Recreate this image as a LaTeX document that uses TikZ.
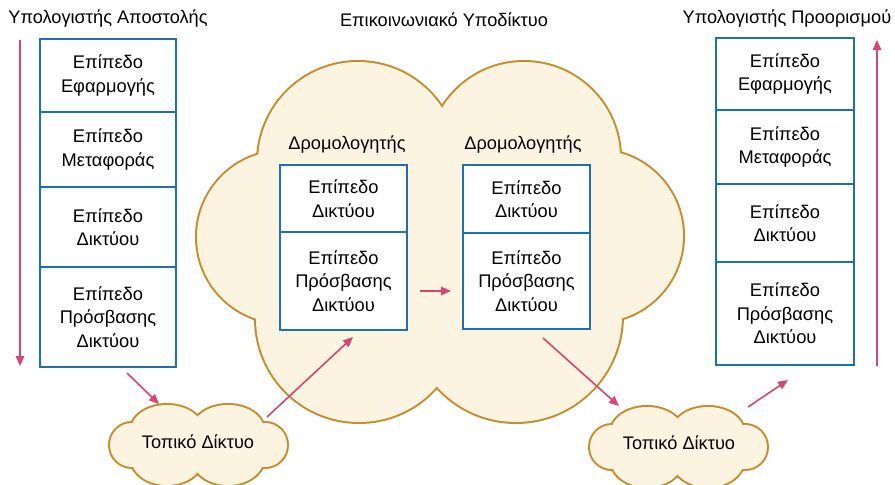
\documentclass[tikz,border=0pt]{standalone}
\usepackage{fontspec}
\setmainfont{Liberation Sans}
\usetikzlibrary{arrows.meta}
\definecolor{cloudfill}{RGB}{252,244,224}
\definecolor{cloudline}{RGB}{200,140,45}
\definecolor{boxblue}{RGB}{28,112,180}
\definecolor{arrowpink}{RGB}{214,70,110}
\begin{document}
\begin{tikzpicture}[x=1pt,y=-1pt,
  layer/.style={draw=boxblue, line width=2.2pt, fill=white, align=center, inner sep=0pt,
    font=\fontsize{18.3}{23.5}\selectfont},
  lbl/.style={font=\fontsize{18.2}{20}\selectfont, inner sep=0pt},
  flow/.style={draw=arrowpink, line width=1.6pt, -{Triangle[length=10pt,width=8.5pt]}},
  cloudedge/.style={draw=cloudline, line width=4pt},
  cloudbody/.style={fill=cloudfill}
  ]
\useasboundingbox[fill=white] (0,0) rectangle (895,485);

% ---------- big cloud (communication subnet) ----------
\foreach \cx/\cy/\r in {358/162/100, 524/158/96, 283/237/86, 597/236/86, 359/319/103, 516/316/106}
  {\path[cloudedge] (\cx,\cy) circle[radius=\r];}
\foreach \cx/\cy/\r in {358/162/100, 524/158/96, 283/237/86, 597/236/86, 359/319/103, 516/316/106}
  {\path[cloudbody] (\cx,\cy) circle[radius=\r];}
\path[cloudbody] (442,108) -- (258,155) -- (256,320) -- (437,387) -- (622,319) -- (620,153) -- cycle;

% ---------- small clouds ----------
\foreach \sx/\sy in {198/443, 678/445}{
  \begin{scope}[shift={(\sx,\sy)}]
  \foreach \ex/\ey/\rx/\ry in {-31/-13/36/25, 30/-13/36/25, -66/2/22/22, 67/2/22/22, -31/15/36/27, 30/15/36/27}
    {\path[cloudedge] (\ex,\ey) ellipse[x radius=\rx,y radius=\ry];}
  \foreach \ex/\ey/\rx/\ry in {-31/-13/36/25, 30/-13/36/25, -66/2/22/22, 67/2/22/22, -31/15/36/27, 30/15/36/27}
    {\path[cloudbody] (\ex,\ey) ellipse[x radius=\rx,y radius=\ry];}
  \path[cloudbody] (-64,-20) rectangle (64,25);
  \end{scope}
}
\node[lbl] (lan1) at (198,442) {Τοπικό Δίκτυο};
\node[lbl] (lan2) at (679,443) {Τοπικό Δίκτυο};

% ---------- titles ----------
\node[lbl] (tsrc) at (108,19) {Υπολογιστής Αποστολής};
\node[lbl] (tnet) at (444,20) {Επικοινωνιακό Υποδίκτυο};
\node[lbl] (tdst) at (787,19) {Υπολογιστής Προορισμού};
\node[lbl] (r1lbl) at (347,145) {Δρομολογητής};
\node[lbl] (r2lbl) at (523,145) {Δρομολογητής};

% ---------- source stack ----------
\node[layer, minimum width=136pt, minimum height=73pt] (s1) at (108,75.5) {Επίπεδο\\Εφαρμογής};
\node[layer, minimum width=136pt, minimum height=75pt] (s2) at (108,149.5) {Επίπεδο\\Μεταφοράς};
\node[layer, minimum width=136pt, minimum height=80pt] (s3) at (108,227) {Επίπεδο\\Δικτύου};
\node[layer, minimum width=136pt, minimum height=100pt] (s4) at (108,317) {Επίπεδο\\Πρόσβασης\\Δικτύου};

% ---------- destination stack ----------
\node[layer, minimum width=138pt, minimum height=72pt] (d1) at (785,74) {Επίπεδο\\Εφαρμογής};
\node[layer, minimum width=138pt, minimum height=74pt] (d2) at (785,147) {Επίπεδο\\Μεταφοράς};
\node[layer, minimum width=138pt, minimum height=78pt] (d3) at (785,223) {Επίπεδο\\Δικτύου};
\node[layer, minimum width=138pt, minimum height=103pt] (d4) at (785,313.5) {Επίπεδο\\Πρόσβασης\\Δικτύου};

% ---------- routers ----------
\node[layer, minimum width=127pt, minimum height=67pt] (r1a) at (343.5,198.5) {Επίπεδο\\Δικτύου};
\node[layer, minimum width=127pt, minimum height=98pt] (r1b) at (343.5,281) {Επίπεδο\\Πρόσβασης\\Δικτύου};
\node[layer, minimum width=127pt, minimum height=68pt] (r2a) at (526.5,199) {Επίπεδο\\Δικτύου};
\node[layer, minimum width=127pt, minimum height=96pt] (r2b) at (526.5,281) {Επίπεδο\\Πρόσβασης\\Δικτύου};

% ---------- arrows ----------
\coordinate (vdownA) at (20,40);
\coordinate (vdownB) at (20,366);
\coordinate (vupA) at (877,366);
\coordinate (vupB) at (877,40);
\coordinate (a1s) at (127,373);
\coordinate (a1e) at (159,404);
\coordinate (a2s) at (267,417);
\coordinate (a2e) at (353,337);
\coordinate (a3s) at (420,291);
\coordinate (a3e) at (451,291);
\coordinate (a4s) at (543,338);
\coordinate (a4e) at (619,406);
\coordinate (a5s) at (748,407);
\coordinate (a5e) at (788,380);
\draw[flow] (vdownA) -- (vdownB);
\draw[flow] (vupA) -- (vupB);
\draw[flow] (a1s) -- (a1e);
\draw[flow] (a2s) -- (a2e);
\draw[flow] (a3s) -- (a3e);
\draw[flow] (a4s) -- (a4e);
\draw[flow] (a5s) -- (a5e);
\end{tikzpicture}
\end{document}
